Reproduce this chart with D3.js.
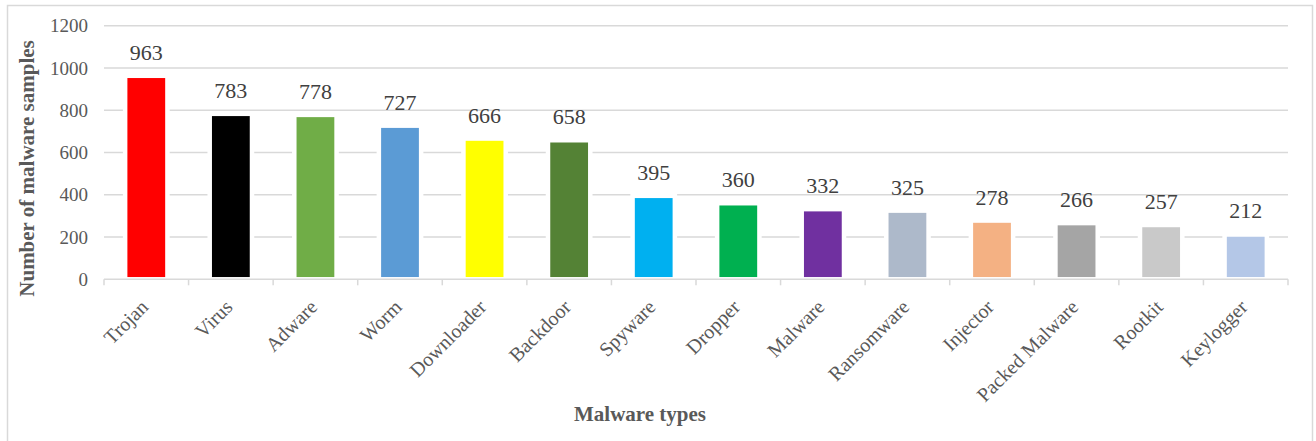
<!DOCTYPE html>
<html>
<head>
<meta charset="utf-8">
<script src="https://cdn.jsdelivr.net/npm/d3@7"></script>
<style>
  body { margin: 0; background: #fff; }
  svg { display: block; font-family: "Liberation Serif", "Times New Roman", serif; }
</style>
</head>
<body>
<div id="chart"></div>
<script>
// Malware sample counts per type
const categories = ['Trojan', 'Virus', 'Adware', 'Worm', 'Downloader', 'Backdoor', 'Spyware',
  'Dropper', 'Malware', 'Ransomware', 'Injector', 'Packed Malware', 'Rootkit', 'Keylogger'];
const counts = [963, 783, 778, 727, 666, 658, 395, 360, 332, 325, 278, 266, 257, 212];
const barColors = ['#FF0000', '#000000', '#70AD47', '#5B9BD5', '#FFFF00', '#548235', '#00B0F0',
  '#00B050', '#7030A0', '#ADB9CA', '#F4B183', '#A5A5A5', '#C9C9C9', '#B4C7E7'];
const yTicks = [0, 200, 400, 600, 800, 1000, 1200];

const width = 1316, height = 441;
const margin = { top: 25.7, right: 28, bottom: 161.7, left: 104 };
const innerW = width - margin.left - margin.right;
const innerH = height - margin.top - margin.bottom;

const svg = d3.select('#chart').append('svg')
  .attr('width', width)
  .attr('height', height);

// outer chart border
svg.append('rect')
  .attr('x', 7.5).attr('y', 5.5)
  .attr('width', 1305).attr('height', 460)
  .attr('fill', 'none')
  .attr('stroke', '#d9d9d9')
  .attr('stroke-width', 1.5);

const g = svg.append('g').attr('transform', `translate(${margin.left},${margin.top})`);

const x = d3.scaleBand().domain(categories).range([0, innerW]).padding(0.5).paddingOuter(0.25);
const y = d3.scaleLinear().domain([0, 1200]).range([innerH, 0]);

// gridlines
g.append('g')
  .selectAll('line')
  .data(yTicks.filter(d => d > 0))
  .join('line')
    .attr('x1', 0).attr('x2', innerW)
    .attr('y1', d => y(d)).attr('y2', d => y(d))
    .attr('stroke', '#d9d9d9')
    .attr('stroke-width', 1.5);

// y tick labels
g.append('g')
  .selectAll('text')
  .data(yTicks)
  .join('text')
    .attr('x', -16)
    .attr('y', d => y(d))
    .attr('dy', '0.35em')
    .attr('text-anchor', 'end')
    .attr('fill', '#595959')
    .style('font-size', '19px')
    .text(d => d);

// bars
g.append('g')
  .selectAll('rect')
  .data(counts)
  .join('rect')
    .attr('x', (d, i) => x(categories[i]))
    .attr('y', d => y(d))
    .attr('width', x.bandwidth())
    .attr('height', d => innerH - y(d))
    .attr('fill', (d, i) => barColors[i])
    .attr('stroke', '#ffffff')
    .attr('stroke-width', 4.5);

// x axis line and ticks at band edges
g.append('line')
  .attr('x1', 0).attr('x2', innerW)
  .attr('y1', innerH).attr('y2', innerH)
  .attr('stroke', '#d9d9d9')
  .attr('stroke-width', 1.5);

const step = x.step();
g.append('g')
  .selectAll('line')
  .data(d3.range(categories.length + 1))
  .join('line')
    .attr('x1', i => i * step).attr('x2', i => i * step)
    .attr('y1', innerH).attr('y2', innerH + 6)
    .attr('stroke', '#d9d9d9')
    .attr('stroke-width', 1.5);

// value labels
g.append('g')
  .selectAll('text')
  .data(counts)
  .join('text')
    .attr('x', (d, i) => x(categories[i]) + x.bandwidth() / 2)
    .attr('y', d => y(d) - 16)
    .attr('text-anchor', 'middle')
    .attr('fill', '#404040')
    .style('font-size', '22px')
    .text(d => d);

// category labels, rotated
g.append('g')
  .selectAll('text')
  .data(categories)
  .join('text')
    .attr('transform', d => `translate(${x(d) + x.bandwidth() / 2 + 3},${innerH + 29}) rotate(-45)`)
    .attr('text-anchor', 'end')
    .attr('fill', '#595959')
    .style('font-size', '20px')
    .text(d => d);

// axis titles
svg.append('text')
  .attr('transform', `translate(34,168.5) rotate(-90)`)
  .attr('text-anchor', 'middle')
  .attr('fill', '#595959')
  .style('font-size', '21px')
  .style('font-weight', 'bold')
  .text('Number of malware samples');

svg.append('text')
  .attr('x', 640)
  .attr('y', 421)
  .attr('text-anchor', 'middle')
  .attr('fill', '#595959')
  .style('font-size', '21px')
  .style('font-weight', 'bold')
  .text('Malware types');
</script>
</body>
</html>
